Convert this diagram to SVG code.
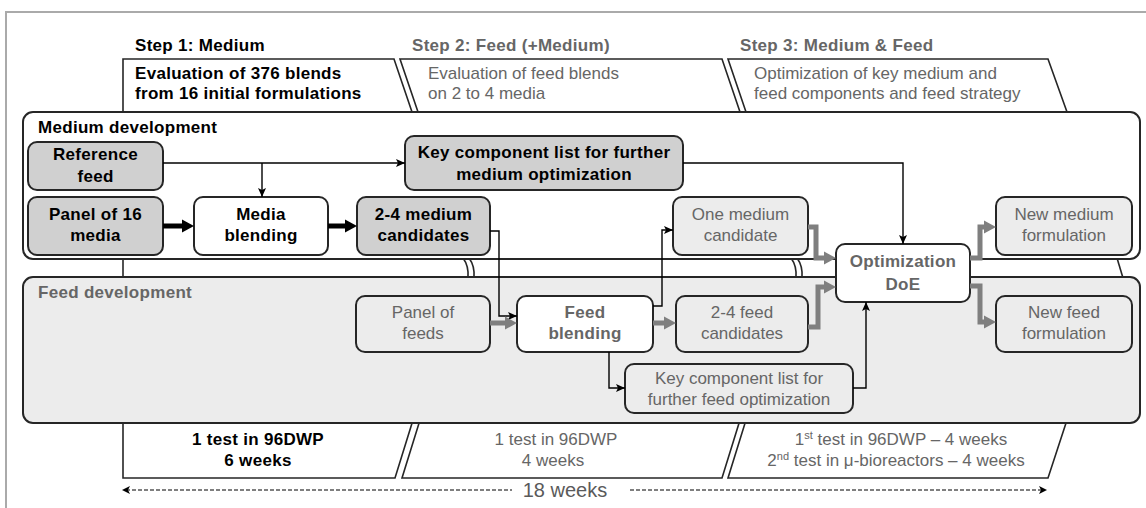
<svg xmlns="http://www.w3.org/2000/svg" width="1146" height="508" viewBox="0 0 1146 508">
<defs>
<style>
.t{font-family:"Liberation Sans",Arial,sans-serif;font-size:17px;text-anchor:middle}
.l{text-anchor:start}
.b{font-weight:bold;letter-spacing:0.3px}
.k{fill:#000}
.g{fill:#666}
.box{stroke:#262626;stroke-width:2}
.dark{fill:#d0d0d0}
.light{fill:#ececec}
.white{fill:#fff}
.frame{fill:#fff;stroke:#262626;stroke-width:1.6}
.thin{stroke:#000;stroke-width:1.4;fill:none}
.thickK{stroke:#000;stroke-width:5;fill:none}
.thickG{stroke:#7f7f7f;stroke-width:5;fill:none}
.dash{stroke:#000;stroke-width:1.2;fill:none;stroke-dasharray:4 2}
.sup{font-size:11px}
.big{font-size:20px;fill:#5a5a5a}
</style>
<marker id="ah" markerUnits="userSpaceOnUse" markerWidth="10" markerHeight="10" refX="9" refY="5" orient="auto"><path d="M0,1 L9,5 L0,9 L2,5z" fill="#000"/></marker>
<marker id="ahK" markerUnits="userSpaceOnUse" markerWidth="16" markerHeight="16" refX="3" refY="8" orient="auto"><path d="M0,1.5 L12,8 L0,14.5 z" fill="#000"/></marker>
<marker id="ahG" markerUnits="userSpaceOnUse" markerWidth="16" markerHeight="16" refX="3" refY="8" orient="auto"><path d="M0,1.5 L12,8 L0,14.5 z" fill="#7f7f7f"/></marker>
</defs>
<rect x="0" y="0" width="1146" height="508" fill="#fff"/>
<path d="M6,508 V12 H1146" fill="none" stroke="#aaa" stroke-width="2"/>

<g id="headers">
<text class="t l b k" x="135" y="51">Step 1: Medium</text>
<text class="t l b g" x="412" y="51">Step 2: Feed (+Medium)</text>
<text class="t l b g" x="740" y="51">Step 3: Medium &amp; Feed</text>
</g>

<g id="step-top">
<polygon class="frame" points="123,59 394,59 412,112 123,112"/>
<polygon class="frame" points="400,59 722,59 740,112 418,112"/>
<polygon class="frame" points="728,59 1048,59 1067,112 746,112"/>
<text class="t l b k" x="135" y="79">Evaluation of 376 blends</text>
<text class="t l b k" x="135" y="99">from 16 initial formulations</text>
<text class="t l g" x="428" y="79">Evaluation of feed blends</text>
<text class="t l g" x="428" y="99">on 2 to 4 media</text>
<text class="t l g" x="754" y="79">Optimization of key medium and</text>
<text class="t l g" x="754" y="99">feed components and feed strategy</text>
</g>

<g id="step-bottom">
<polygon class="frame" points="123,420 413,420 395,478 123,478"/>
<polygon class="frame" points="420,420 740,420 722,478 402,478"/>
<polygon class="frame" points="746,420 1067,420 1048,478 728,478"/>
<text class="t b k" x="258" y="445">1 test in 96DWP</text>
<text class="t b k" x="258" y="466">6 weeks</text>
<text class="t g" x="556" y="445">1 test in 96DWP</text>
<text class="t g" x="553" y="466">4 weeks</text>
<text class="t g" x="901" y="445">1<tspan class="sup" dy="-6">st</tspan><tspan dy="6"> test in 96DWP – 4 weeks</tspan></text>
<text class="t g" x="896" y="466">2<tspan class="sup" dy="-6">nd</tspan><tspan dy="6">  test in μ-bioreactors – 4 weeks</tspan></text>
</g>

<g id="separators" fill="none" stroke="#262626" stroke-width="1.6">
<path d="M123,258 V278"/>
<path d="M463,258 Q469,266 468,278"/>
<path d="M469,258 Q475,266 474,278"/>
<path d="M791,258 Q797,266 796,278"/>
<path d="M797,258 Q803,266 802,278"/>
<path d="M1117,258 L1123,278"/>
</g>

<g id="medium-development">
<rect x="23" y="112" width="1117" height="147" rx="10" fill="#fff" stroke="#262626" stroke-width="2"/>
<text class="t l b k" x="38" y="133">Medium development</text>
</g>

<g id="feed-development">
<rect x="23" y="277" width="1117" height="146" rx="10" fill="#ececec" stroke="#262626" stroke-width="2"/>
<text class="t l b g" x="38" y="298">Feed development</text>
</g>

<g id="reference-feed">
<rect class="box dark" x="28" y="142" width="135" height="48" rx="9"/>
<text class="t b k" x="95.5" y="160">Reference</text>
<text class="t b k" x="95.5" y="182">feed</text>
</g>
<g id="panel-16-media">
<rect class="box dark" x="28" y="197" width="135" height="58" rx="9"/>
<text class="t b k" x="95.5" y="220">Panel of 16</text>
<text class="t b k" x="95.5" y="241">media</text>
</g>
<g id="media-blending">
<rect class="box white" x="194" y="197" width="134" height="58" rx="9"/>
<text class="t b k" x="261" y="220">Media</text>
<text class="t b k" x="261" y="241">blending</text>
</g>
<g id="medium-candidates">
<rect class="box dark" x="357" y="197" width="133" height="58" rx="9"/>
<text class="t b k" x="423.5" y="220">2-4 medium</text>
<text class="t b k" x="423.5" y="241">candidates</text>
</g>
<g id="key-medium">
<rect class="box dark" x="405" y="136" width="278" height="54" rx="9"/>
<text class="t b k" x="544" y="158">Key component list for further</text>
<text class="t b k" x="544" y="180">medium optimization</text>
</g>
<g id="one-medium">
<rect class="box light" x="673" y="197" width="135" height="58" rx="9"/>
<text class="t g" x="740.5" y="220">One medium</text>
<text class="t g" x="740.5" y="241">candidate</text>
</g>
<g id="new-medium">
<rect class="box light" x="996" y="197" width="136" height="58" rx="9"/>
<text class="t g" x="1064" y="220">New medium</text>
<text class="t g" x="1064" y="241">formulation</text>
</g>
<g id="panel-feeds">
<rect class="box light" x="356" y="296" width="134" height="56" rx="9"/>
<text class="t g" x="423" y="318">Panel of</text>
<text class="t g" x="423" y="339">feeds</text>
</g>
<g id="feed-blending">
<rect class="box white" x="517" y="296" width="136" height="56" rx="9"/>
<text class="t b g" x="585" y="318">Feed</text>
<text class="t b g" x="585" y="339">blending</text>
</g>
<g id="feed-candidates">
<rect class="box light" x="676" y="296" width="132" height="56" rx="9"/>
<text class="t g" x="742" y="318">2-4 feed</text>
<text class="t g" x="742" y="339">candidates</text>
</g>
<g id="new-feed">
<rect class="box light" x="996" y="296" width="136" height="56" rx="9"/>
<text class="t g" x="1064" y="318">New feed</text>
<text class="t g" x="1064" y="339">formulation</text>
</g>
<g id="key-feed">
<rect class="box light" x="625" y="364" width="228" height="49" rx="9"/>
<text class="t g" x="739" y="384">Key component list for</text>
<text class="t g" x="739" y="405">further feed optimization</text>
</g>
<g id="optimization-doe">
<rect class="box white" x="836" y="244" width="134" height="58" rx="9"/>
<text class="t b g" x="903" y="267">Optimization</text>
<text class="t b g" x="903" y="290">DoE</text>
</g>

<g id="connectors">
<path class="thin" d="M163,163 H405" marker-end="url(#ah)"/>
<path class="thin" d="M262,163 V197" marker-end="url(#ah)"/>
<path class="thin" d="M490,231 H499 V316 H517" marker-end="url(#ah)"/>
<path class="thin" d="M653,306 H662 V230 H673" marker-end="url(#ah)"/>
<path class="thin" d="M609,352 V388 H625" marker-end="url(#ah)"/>
<path class="thin" d="M853,388 H866 V302" marker-end="url(#ah)"/>
<path class="thin" d="M683,163 H903 V244" marker-end="url(#ah)"/>
<path class="thickK" d="M163,226 H185" marker-end="url(#ahK)"/>
<path class="thickK" d="M328,226 H348" marker-end="url(#ahK)"/>
<path class="thickG" d="M490,323 H508" marker-end="url(#ahG)"/>
<path class="thickG" d="M653,323 H667" marker-end="url(#ahG)"/>
<path class="thickG" d="M808,227 H816 V258 H827" marker-end="url(#ahG)"/>
<path class="thickG" d="M808,327 H818 V287 H827" marker-end="url(#ahG)"/>
<path class="thickG" d="M970,258 H980 V227 H987" marker-end="url(#ahG)"/>
<path class="thickG" d="M970,286 H980 V322 H987" marker-end="url(#ahG)"/>
</g>

<g id="timeline">
<path class="dash" d="M126,490 H512"/>
<path d="M122,490 L130,486 L128,490 L130,494 z" fill="#000"/>
<path class="dash" d="M630,490 H1043"/>
<path d="M1047,490 L1039,486 L1041,490 L1039,494 z" fill="#000"/>
<text class="t big" x="565" y="497">18 weeks</text>
</g>
</svg>
